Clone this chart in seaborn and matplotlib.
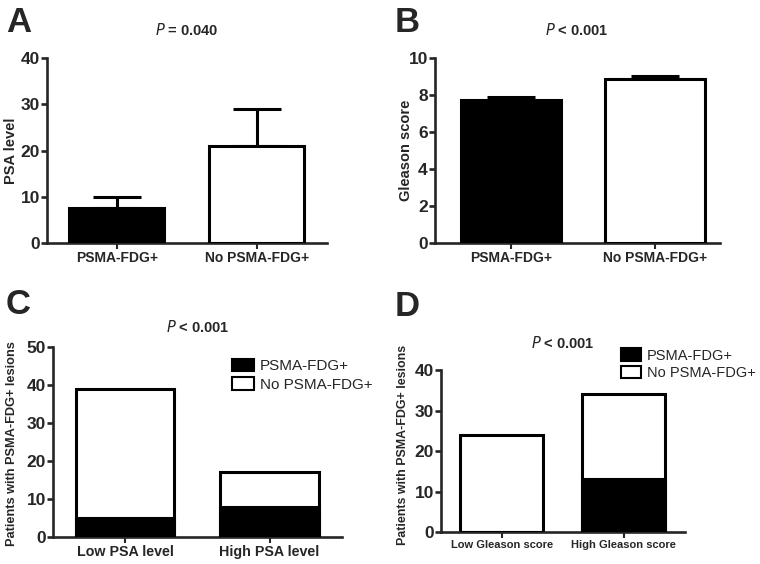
import matplotlib
matplotlib.use("Agg")
import matplotlib.pyplot as plt
import seaborn as sns
import pandas as pd
from matplotlib.patches import Patch

# data
groups = ["PSMA-FDG+", "No PSMA-FDG+"]
psa_mean = [7.6, 20.9]
psa_err = [2.4, 8.2]
gleason_mean = [7.72, 8.85]
gleason_err = [0.16, 0.20]

psa_cats = ["Low PSA level", "High PSA level"]
psa_pos = [5, 8]
psa_neg = [34, 9]

gs_cats = ["Low Gleason score", "High Gleason score"]
gs_pos = [0, 13]
gs_neg = [24, 21]

sns.set_style("ticks")
plt.rcParams['font.family'] = ['Liberation Sans', 'DejaVu Sans']
plt.rcParams['axes.linewidth'] = 1.9

fig = plt.figure(figsize=(7.6, 5.64), dpi=100)
axA = fig.add_axes([0.0618, 0.569, 0.368, 0.328])
axB = fig.add_axes([0.572, 0.569, 0.375, 0.328])
axC = fig.add_axes([0.0697, 0.0479, 0.380, 0.337])
axD = fig.add_axes([0.580, 0.0567, 0.321, 0.287])

LW = 2.2


def style_axis(ax, ticks, ylabel, label_x, xfs=10, yfs=10.5, label_y=0.5,
               xlim=(-0.5, 1.5)):
    ax.set_ylim(ticks[0], ticks[-1])
    ax.set_xlim(*xlim)
    ax.set_yticks(ticks)
    sns.despine(ax=ax)
    ax.tick_params(axis='y', length=4, width=1.9, labelsize=12.5, pad=1)
    ax.tick_params(axis='x', length=4, width=1.5, labelsize=xfs, pad=2)
    for lab in ax.get_xticklabels() + ax.get_yticklabels():
        lab.set_fontweight('bold')
    ax.set_xlabel("")
    ax.set_ylabel(ylabel, fontsize=yfs, fontweight='bold')
    ax.yaxis.set_label_coords(label_x, label_y)


def mean_panel(ax, means, errs, ticks, ylabel, label_x, width, xlim):
    df = pd.DataFrame({"group": groups, "value": means})
    sns.barplot(data=df, x="group", y="value", hue="group",
                palette=["black", "white"], edgecolor="black",
                linewidth=LW, width=width, legend=False, ax=ax, zorder=3)
    ax.errorbar(range(len(means)), means, yerr=[[0] * len(errs), errs],
                fmt='none', ecolor='black', elinewidth=LW, capsize=17,
                capthick=LW, zorder=2)
    style_axis(ax, ticks, ylabel, label_x, xlim=xlim)


def stacked_panel(ax, cats, pos, neg, ticks, label_x, xfs, yfs, label_y):
    total = [p + n for p, n in zip(pos, neg)]
    df = pd.DataFrame({"cat": cats, "total": total, "pos": pos})
    sns.barplot(data=df, x="cat", y="total", color="white", edgecolor="black",
                linewidth=LW, width=0.68, ax=ax, zorder=2)
    sns.barplot(data=df, x="cat", y="pos", color="black", edgecolor="black",
                linewidth=LW, width=0.68, ax=ax, zorder=3)
    style_axis(ax, ticks, "Patients with PSMA-FDG+ lesions", label_x,
               xfs=xfs, yfs=yfs, label_y=label_y)


mean_panel(axA, psa_mean, psa_err, [0, 10, 20, 30, 40], "PSA level",
           -0.104, 0.68, (-0.5, 1.5))
mean_panel(axB, gleason_mean, gleason_err, [0, 2, 4, 6, 8, 10],
           "Gleason score", -0.077, 0.70, (-0.53, 1.45))
stacked_panel(axC, psa_cats, psa_pos, psa_neg, [0, 10, 20, 30, 40, 50],
              -0.121, 10.3, 9.2, 0.49)
stacked_panel(axD, gs_cats, gs_pos, gs_neg, [0, 10, 20, 30, 40],
              -0.131, 8, 8.9, 0.54)

handles = [Patch(facecolor="black", edgecolor="black", linewidth=1.5),
           Patch(facecolor="white", edgecolor="black", linewidth=1.5)]
axC.legend(handles, groups, loc="upper left", bbox_to_anchor=(0.6, 0.97),
           frameon=False, fontsize=11, handlelength=1.4, handleheight=0.9,
           handletextpad=0.4, labelspacing=0.25, borderaxespad=0)
axD.legend(handles, groups, loc="upper left", bbox_to_anchor=(0.715, 1.17),
           frameon=False, fontsize=10.5, handlelength=1.4, handleheight=0.9,
           handletextpad=0.35, labelspacing=0.25, borderaxespad=0)


def p_text(ax, txt, y):
    parts = txt.split(" ", 1)
    ax.text(0.5, y, r"$\bf{\it{P}}$ " + parts[1], transform=ax.transAxes,
            ha="center", va="center", fontsize=10.5, fontweight="bold")


p_text(axA, "P = 0.040", 1.151)
p_text(axB, "P < 0.001", 1.151)
p_text(axC, "P < 0.001", 1.105)
p_text(axD, "P < 0.001", 1.167)

for letter, x, y in [("A", 19, 22), ("B", 407, 22), ("C", 18, 305), ("D", 407, 306)]:
    fig.text(x / 760, 1 - y / 564, letter, fontsize=25, fontweight="bold",
             ha="center", va="center")

fig.savefig("out.png", dpi=100)
